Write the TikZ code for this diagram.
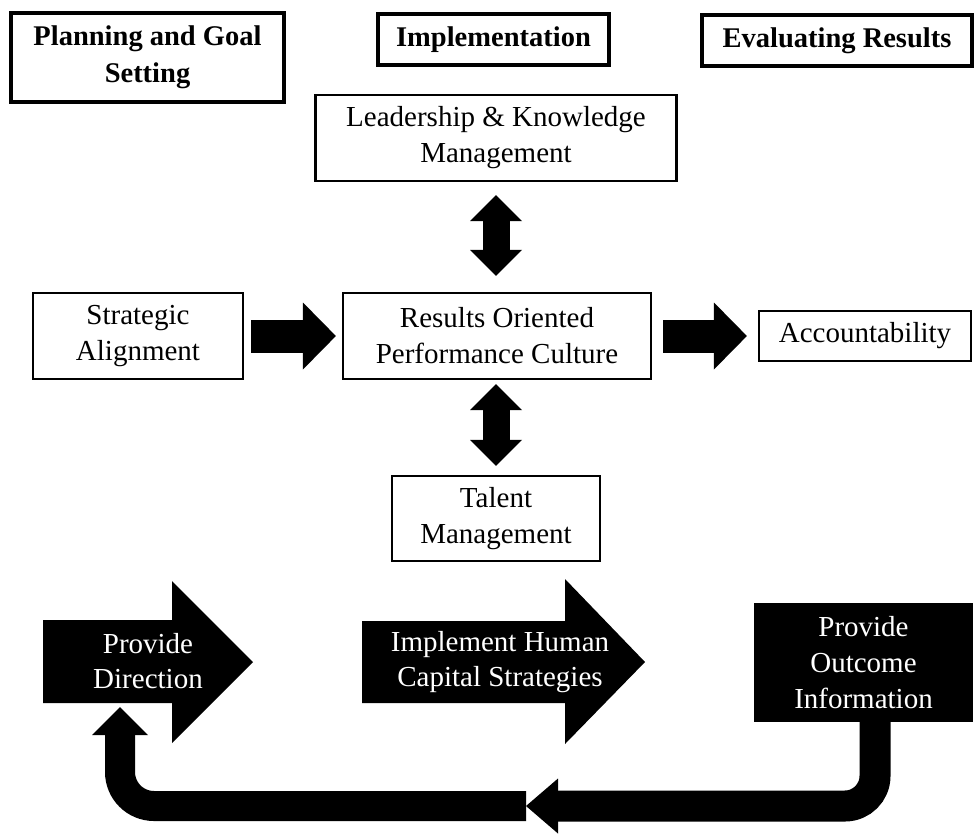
\documentclass[tikz,border=0pt]{standalone}
\usepackage{fontspec}
\setmainfont{Liberation Serif}
\usetikzlibrary{arrows.meta,calc}
\begin{document}
\begin{tikzpicture}[x=1pt,y=-1pt,
  phase/.style={draw=black, line width=3.5pt, align=center,
    font=\fontsize{28.5}{37}\selectfont\bfseries, inner sep=0pt},
  box/.style={draw=black, line width=2.2pt, align=center,
    font=\fontsize{29}{36}\selectfont, inner sep=0pt},
  wtext/.style={text=white, align=center,
    font=\fontsize{29}{35}\selectfont, inner sep=0pt},
  fat/.style={line width=33pt, -{Triangle[length=33pt,width=67pt,line width=0pt]}},
  dbl/.style={line width=27pt,
    {Triangle[length=26pt,width=52pt,line width=0pt]}-{Triangle[length=26pt,width=52pt,line width=0pt]}},
  band/.style={line width=31pt, rounded corners=30pt}
]
% page
\fill[white] (0,0) rectangle (974,833);
\useasboundingbox (0,0) rectangle (974,833);

% phase headers
\node[phase, minimum width=273pt, minimum height=89pt] (plan) at (147.5,57.5) {Planning and Goal\\Setting};
\node[phase, minimum width=231pt, minimum height=51pt] (impl) at (493.5,39.5) {Implementation};
\node[phase, minimum width=270pt, minimum height=51pt] (eval) at (837,40.5) {Evaluating Results};

% framework boxes
\node[box, minimum width=361pt, minimum height=86pt] (lead) at (496,138) {Leadership \& Knowledge\\Management};
\node[box, minimum width=210pt, minimum height=86pt] (sa) at (138,336) {Strategic\\Alignment};
\node[box, minimum width=308pt, minimum height=86pt] (roc) at (497,336) {Results Oriented\\Performance Culture};
\node[box, minimum width=212pt, minimum height=50pt] (acc) at (865,336) {Accountability};
\node[box, minimum width=208pt, minimum height=85pt] (tal) at (496,518.5) {Talent\\Management};

% block arrows between boxes
\draw[fat, shorten <=7pt, shorten >=6pt] (sa) -- (roc);
\draw[fat, shorten <=11pt, shorten >=11pt] (roc) -- (acc);
\draw[dbl, shorten <=13pt, shorten >=16pt] (lead.south -| tal.north) -- (roc.north -| tal.north);
\draw[dbl, shorten <=4pt, shorten >=9pt] (roc.south -| tal.north) -- (tal);

% process arrows
\fill (43,620) -- (172,620) -- (172,581) -- (253,662) -- (172,743) -- (172,703) -- (43,703) -- cycle;
\node[wtext, minimum width=210pt, minimum height=83pt] (pd) at (148,661.5) {Provide\\Direction};

\fill (362,621) -- (565,621) -- (565,579) -- (645,662) -- (565,744) -- (565,703) -- (362,703) -- cycle;
\node[wtext] (ihc) at (500,662) {Implement Human\\Capital Strategies};

\node[wtext, fill=black, minimum width=219pt, minimum height=119pt,
  font=\fontsize{29}{36}\selectfont] (out) at (863.5,662.5) {Provide\\Outcome\\Information};

% feedback loop
\coordinate (meet) at (526,806);
\draw[band, -{Triangle[length=32pt,width=55pt,line width=0pt]}]
  ([xshift=11.5pt]out.south) |- (meet);
\draw[band, line width=30pt, rounded corners=34pt,
  -{Triangle[length=28pt,width=56pt,line width=0pt]}]
  (meet) -| ($(pd.south)+(-28,4)$);
\end{tikzpicture}
\end{document}
